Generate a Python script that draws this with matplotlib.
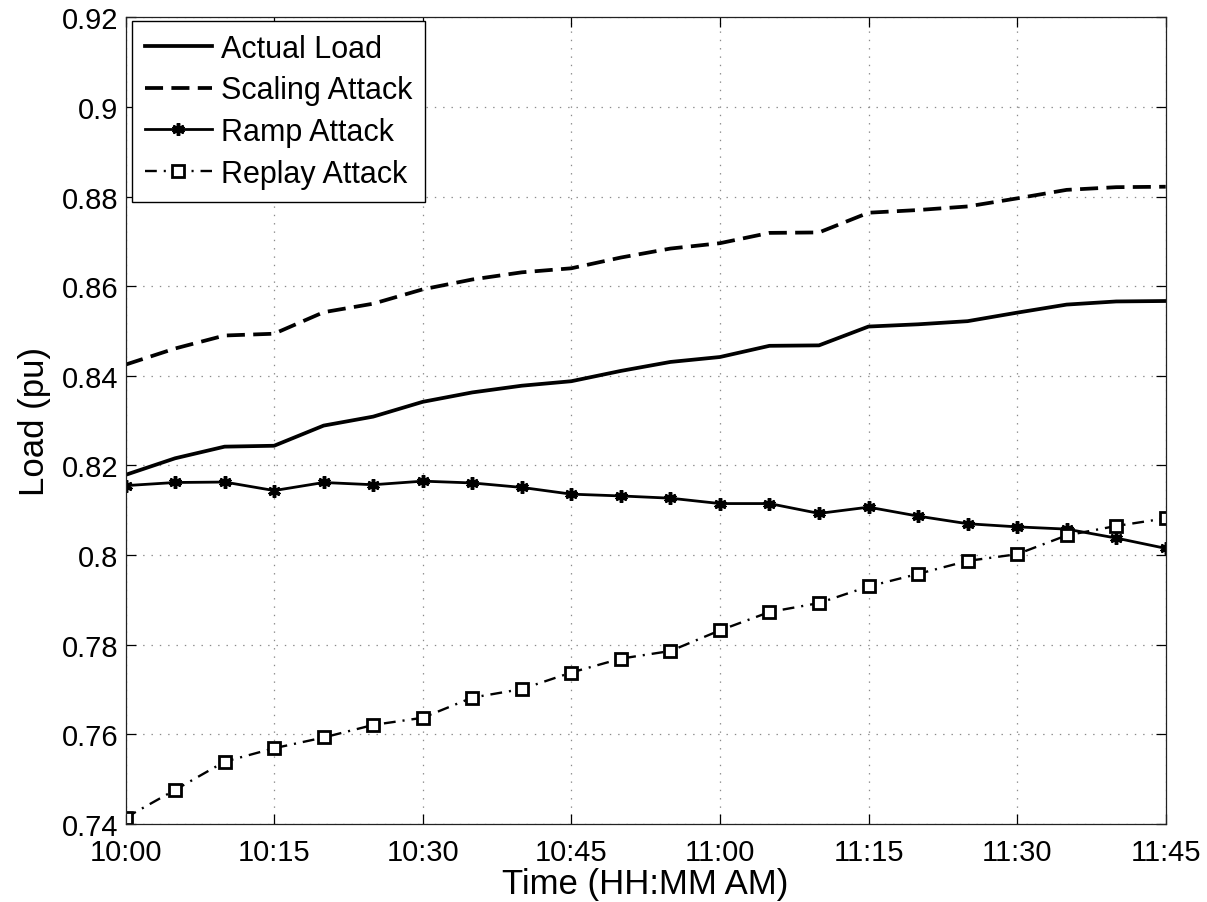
import matplotlib
matplotlib.use("Agg")
import matplotlib.pyplot as plt
from matplotlib.ticker import FuncFormatter

plt.rcParams['font.family'] = ['Liberation Sans', 'DejaVu Sans']
plt.rcParams['lines.scale_dashes'] = False

# minutes after 10:00
minutes = [0, 5, 10, 15, 20, 25, 30, 35, 40, 45, 50, 55,
           60, 65, 70, 75, 80, 85, 90, 95, 100, 105]

actual_load = [0.8179, 0.8216, 0.8242, 0.8244, 0.8289, 0.8309, 0.8342, 0.8363,
               0.8378, 0.8388, 0.8411, 0.8431, 0.8442, 0.8467, 0.8468, 0.8510,
               0.8515, 0.8522, 0.8541, 0.8559, 0.8566, 0.8567]

scaling_attack = [0.8425, 0.8461, 0.8490, 0.8494, 0.8542, 0.8561, 0.8593, 0.8615,
                  0.8631, 0.8640, 0.8664, 0.8684, 0.8696, 0.8719, 0.8720, 0.8764,
                  0.8770, 0.8778, 0.8796, 0.8815, 0.8821, 0.8822]

ramp_attack = [0.8155, 0.8162, 0.8163, 0.8144, 0.8162, 0.8157, 0.8165, 0.8161,
               0.8151, 0.8136, 0.8132, 0.8127, 0.8115, 0.8115, 0.8093, 0.8107,
               0.8087, 0.8070, 0.8063, 0.8058, 0.8038, 0.8015]

replay_attack = [0.7414, 0.7476, 0.7539, 0.7569, 0.7593, 0.7621, 0.7637, 0.7682,
                 0.7701, 0.7738, 0.7769, 0.7786, 0.7832, 0.7873, 0.7893, 0.7930,
                 0.7958, 0.7987, 0.8002, 0.8044, 0.8065, 0.8082]

xtick_pos = [0, 15, 30, 45, 60, 75, 90, 105]
xtick_labels = ['10:00', '10:15', '10:30', '10:45', '11:00', '11:15', '11:30', '11:45']
ytick_vals = [0.74, 0.76, 0.78, 0.80, 0.82, 0.84, 0.86, 0.88, 0.90, 0.92]

fig = plt.figure(figsize=(12.07, 9.03), dpi=100)
ax = fig.add_axes([0.104, 0.0864, 0.8618, 0.8933])

ax.plot(minutes, actual_load, color='black', lw=2.7, ls='-', label='Actual Load')
ax.plot(minutes, scaling_attack, color='black', lw=2.7, dashes=(13, 6), label='Scaling Attack')
ax.plot(minutes, ramp_attack, color='black', lw=2.0, ls='-', marker=(6, 2, 0),
        markersize=9, markeredgewidth=2.5, label='Ramp Attack')
ax.plot(minutes, replay_attack, color='black', lw=1.7, dashes=(8.5, 5, 1.5, 5),
        marker='s', markersize=8, markerfacecolor='white', markeredgecolor='black',
        markeredgewidth=2.0, label='Replay Attack')

ax.set_xlim(0, 105)
ax.set_ylim(0.74, 0.92)
ax.set_xticks(xtick_pos)
ax.set_xticklabels(xtick_labels)
ax.set_yticks(ytick_vals)
ax.yaxis.set_major_formatter(FuncFormatter(lambda v, p: ('%g' % round(v, 2))))

ax.tick_params(direction='in', length=7, width=0.9, top=True, right=True,
               labelsize=21, colors='black')
ax.tick_params(axis='x', pad=10)
ax.tick_params(axis='y', pad=5)
ax.grid(True, color='#8a8a8a', ls=(0, (1, 5)), lw=0.9)
for s in ax.spines.values():
    s.set_linewidth(0.9)
    s.set_color('#222222')

ax.set_xlabel('Time (HH:MM AM)', fontsize=25, labelpad=1)
ax.set_ylabel('Load (pu)', fontsize=25, labelpad=8)

leg = ax.legend(loc='upper left', bbox_to_anchor=(0.006, 0.9954), borderaxespad=0,
                fontsize=22, fancybox=False, framealpha=1,
                edgecolor='black', handlelength=2.2,
                handletextpad=0.3, labelspacing=0.38, borderpad=0.42)
leg.get_frame().set_linewidth(1.0)

fig.savefig('out.png', dpi=100)
